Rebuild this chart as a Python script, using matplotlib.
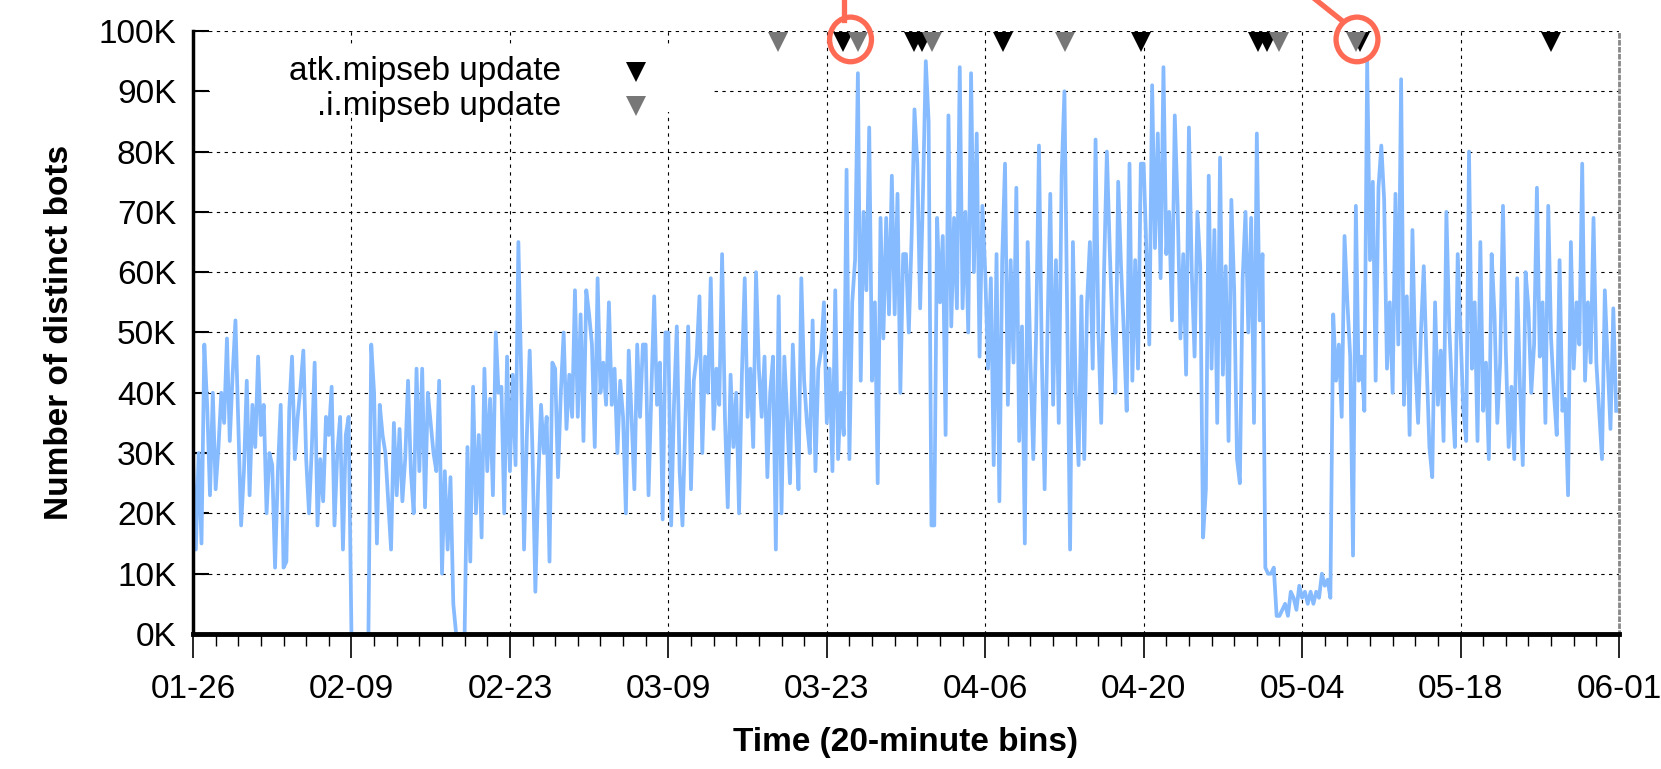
import datetime as dt
import matplotlib
matplotlib.use('Agg')
import matplotlib.pyplot as plt
import matplotlib.dates as mdates
from matplotlib.patches import Ellipse, Rectangle
from matplotlib.ticker import FuncFormatter

plt.rcParams['font.family'] = ['Liberation Sans', 'DejaVu Sans']

START = dt.datetime(2018, 1, 26)
BIN_HOURS = 6          # readings taken every 6 hours off the picture

# number of distinct bots (thousands), 4 readings per day, 14 days per list
bots_0126 = [29, 14, 30, 15, 48, 38, 23, 40, 24, 31, 40, 35, 49, 32, 43, 52,
             35, 18, 27, 42, 23, 38, 31, 46, 33, 38, 20, 30, 28, 11, 27, 38,
             11, 12, 37, 46, 29, 36, 41, 47, 29, 20, 31, 45, 18, 29, 22, 36,
             33, 41, 18, 30, 36, 14, 33, 36]
bots_0209 = [0, 0, 0, 0, 0, 0, 0, 48, 40, 15, 38, 33, 30, 22, 14, 35,
             23, 34, 22, 29, 42, 27, 20, 44, 27, 44, 21, 40, 35, 30, 27, 42,
             10, 27, 14, 26, 5, 0, 0, 0, 0, 31, 12, 41, 20, 33, 16, 44,
             27, 39, 23, 50, 40, 41, 20, 46]
bots_0223 = [27, 43, 28, 65, 43, 14, 33, 47, 30, 7, 25, 38, 30, 36, 12, 45,
             44, 26, 40, 50, 34, 43, 36, 57, 36, 53, 32, 57, 53, 48, 31, 59,
             40, 45, 38, 55, 38, 44, 30, 42, 36, 20, 47, 36, 24, 48, 36, 48,
             48, 23, 40, 56, 38, 45, 19, 50]
bots_0309 = [50, 18, 38, 51, 27, 18, 35, 51, 24, 42, 46, 56, 30, 46, 40, 59,
             34, 44, 38, 63, 36, 21, 43, 31, 40, 20, 43, 59, 36, 44, 31, 60,
             44, 36, 46, 26, 40, 46, 14, 56, 20, 46, 36, 25, 48, 35, 24, 59,
             42, 35, 30, 52, 27, 44, 47, 55]
bots_0323 = [35, 44, 27, 57, 29, 40, 33, 77, 29, 55, 62, 93, 42, 70, 57, 84,
             42, 55, 25, 69, 49, 69, 53, 76, 53, 73, 40, 63, 63, 50, 66, 87,
             78, 54, 73, 95, 85, 18, 18, 69, 55, 66, 33, 86, 51, 69, 54, 94,
             54, 70, 50, 93, 60, 83, 46, 71]
bots_0406 = [60, 44, 59, 28, 63, 22, 62, 78, 38, 62, 45, 74, 32, 51, 15, 65,
             45, 29, 50, 81, 46, 24, 50, 73, 38, 62, 35, 76, 90, 52, 14, 65,
             40, 28, 56, 29, 55, 65, 44, 82, 50, 35, 60, 80, 64, 50, 40, 75,
             61, 50, 37, 78, 42, 62, 44, 78]
bots_0420 = [78, 63, 48, 91, 64, 83, 59, 94, 63, 70, 52, 86, 71, 49, 63, 43,
             84, 60, 46, 70, 61, 16, 24, 76, 44, 67, 35, 79, 43, 61, 32, 72,
             57, 29, 25, 59, 70, 50, 69, 35, 83, 52, 63, 11, 10, 10, 11, 3,
             3, 4, 5, 3, 7, 6, 4, 8]
bots_0504 = [6, 7, 5, 7, 5, 7, 6, 10, 8, 9, 6, 53, 42, 48, 36, 66,
             55, 46, 13, 71, 42, 46, 37, 95, 62, 75, 42, 74, 81, 72, 44, 55,
             40, 73, 48, 92, 38, 56, 33, 67, 45, 35, 50, 61, 45, 31, 26, 55,
             38, 47, 32, 70, 51, 40, 31, 63]
bots_0518 = [50, 37, 32, 80, 44, 55, 32, 65, 37, 45, 29, 63, 53, 35, 45, 71,
             47, 31, 41, 29, 59, 41, 28, 60, 54, 40, 48, 74, 46, 55, 35, 71,
             49, 40, 33, 62, 37, 39, 23, 65, 44, 55, 48, 78, 42, 55, 45, 69,
             45, 37, 29, 57, 45, 34, 54, 37]

# update events, in days after 01-26
atk_update_days = [57.42, 63.75, 64.40, 71.60, 83.79, 94.07, 94.88, 103.16, 119.95]
i_update_days = [51.73, 58.76, 65.26, 77.02, 95.96, 102.73]
highlight_days = [58.1, 102.85]

bots = (bots_0126 + bots_0209 + bots_0223 + bots_0309 + bots_0323 +
        bots_0406 + bots_0420 + bots_0504 + bots_0518)
times = [START + dt.timedelta(hours=BIN_HOURS * i) for i in range(len(bots))]


def day(d):
    return mdates.date2num(START + dt.timedelta(days=d))


fig = plt.figure(figsize=(16.61, 7.69), dpi=100)
ax = fig.add_axes([0.1162, 0.1756, 0.8585, 0.7841])

ax.plot(times, bots, color='#87BBFF', lw=2.7, zorder=2)

top = 98.25
ax.plot([day(d) for d in atk_update_days], [top] * len(atk_update_days), 'v',
        ms=15, color='black', mew=0, clip_on=False, zorder=5)
ax.plot([day(d) for d in i_update_days], [top] * len(i_update_days), 'v',
        ms=15, color='#777777', mew=0, clip_on=False, zorder=6)

# red highlights
red = '#FF6A55'
for d in highlight_days:
    ax.add_patch(Ellipse((day(d), 98.6), 3.7, 7.4, fill=False, ec=red, lw=3.8,
                         clip_on=False, zorder=7))
ax.plot([day(57.55), day(57.55)], [101.9, 106], color=red, lw=3.8,
        clip_on=False, zorder=7)
ax.plot([day(99.0), day(101.6)], [105.5, 101.6], color=red, lw=3.8,
        clip_on=False, zorder=7)

# key (opaque box, marker on the right)
ax.add_patch(Rectangle((0.012, 0.865), 0.353, 0.11, transform=ax.transAxes,
                       fc='white', ec='none', zorder=1.8))
ax.text(0.258, 0.932, 'atk.mipseb update', transform=ax.transAxes,
        ha='right', va='center', fontsize=24, zorder=3)
ax.text(0.258, 0.875, '.i.mipseb update', transform=ax.transAxes,
        ha='right', va='center', fontsize=24, zorder=3)
ax.plot([0.311], [0.932], 'v', ms=15, color='black', mew=0,
        transform=ax.transAxes, zorder=3)
ax.plot([0.311], [0.875], 'v', ms=15, color='#777777', mew=0,
        transform=ax.transAxes, zorder=3)

ax.set_xlim(day(0), day(126))
ax.set_ylim(0, 100)
ax.set_yticks(range(0, 101, 10))
ax.yaxis.set_major_formatter(FuncFormatter(lambda v, p: f'{v:.0f}K'))
ax.set_xticks([day(14 * k) for k in range(10)])
ax.set_xticks([day(2 * k) for k in range(64)], minor=True)
ax.xaxis.set_major_formatter(mdates.DateFormatter('%m-%d'))

ax.tick_params(axis='y', direction='in', length=11.5, width=1.5, pad=12,
               labelsize=24)
ax.tick_params(axis='x', which='major', direction='out', length=17, width=1.2,
               pad=12, labelsize=24)
ax.tick_params(axis='x', which='minor', direction='out', length=8.5, width=1)

ax.grid(which='major', color='black', linestyle=(0, (3, 4)), linewidth=0.8)

ax.spines['top'].set_visible(False)
ax.spines['left'].set_linewidth(2.5)
ax.spines['bottom'].set_linewidth(3.5)
ax.spines['right'].set_color('#888888')
ax.spines['right'].set_linestyle((0, (1, 1.5)))
ax.spines['right'].set_linewidth(2)

ax.set_xlabel('Time (20-minute bins)', fontsize=24, fontweight='bold', labelpad=16)
ax.set_ylabel('Number of distinct bots', fontsize=24, fontweight='bold', labelpad=17)

fig.savefig('out.png', dpi=100)
